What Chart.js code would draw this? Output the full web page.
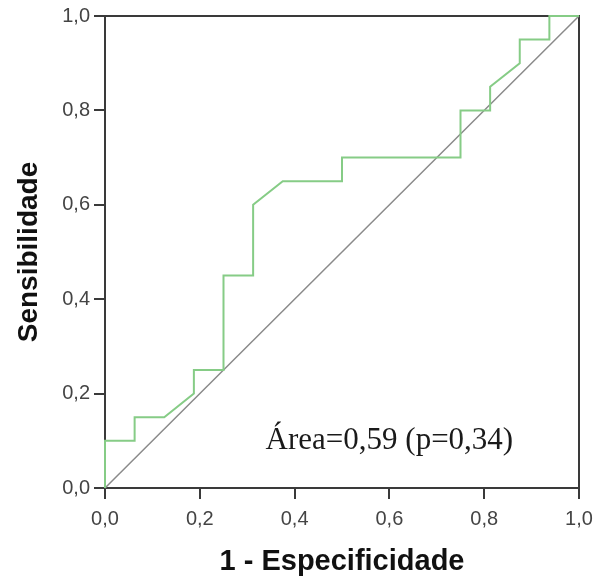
<!DOCTYPE html>
<html>
<head>
<meta charset="utf-8">
<script src="https://cdn.jsdelivr.net/npm/chart.js@4"></script>
<style>
  html, body { margin: 0; padding: 0; background: #ffffff; }
  #wrap { width: 610px; height: 580px; position: relative; }
</style>
</head>
<body>
<div id="wrap"><canvas id="c" width="610" height="580"></canvas></div>
<script>
// ROC curve (1 - Especificidade, Sensibilidade)
const rocFpr = [0, 0, 0.0625, 0.0625, 0.125, 0.1875, 0.1875, 0.25, 0.25, 0.3125, 0.3125, 0.375, 0.5, 0.5, 0.75, 0.75, 0.8125, 0.8125, 0.875, 0.875, 0.9375, 0.9375, 1];
const rocTpr = [0, 0.10, 0.10, 0.15, 0.15, 0.20, 0.25, 0.25, 0.45, 0.45, 0.60, 0.65, 0.65, 0.70, 0.70, 0.80, 0.80, 0.85, 0.90, 0.95, 0.95, 1.0, 1.0];
const refX = [0, 1];
const refY = [0, 1];
const xTickLabels = ['0,0', '0,2', '0,4', '0,6', '0,8', '1,0'];
const yTickLabels = ['0,0', '0,2', '0,4', '0,6', '0,8', '1,0'];
const xTitle = '1 - Especificidade';
const yTitle = 'Sensibilidade';
const annotationText = 'Área=0,59 (p=0,34)';
const annotationPos = [0.6, 0.1];

const toPts = (xs, ys) => xs.map((x, i) => ({ x: x, y: ys[i] }));

const frame = {
  id: 'frame',
  beforeDatasetsDraw(chart) {
    const { ctx, chartArea: a } = chart;
    ctx.save();
    ctx.strokeStyle = '#3a3a3a';
    ctx.lineWidth = 2;
    ctx.beginPath();
    ctx.moveTo(a.left, a.top);
    ctx.lineTo(a.right, a.top);
    ctx.lineTo(a.right, a.bottom);
    ctx.stroke();
    ctx.restore();
  },
  afterDatasetsDraw(chart) {
    const { ctx, scales } = chart;
    ctx.save();
    ctx.font = '31px "Liberation Serif", "Times New Roman", serif';
    ctx.fillStyle = '#1a1a1a';
    ctx.textAlign = 'center';
    ctx.textBaseline = 'middle';
    ctx.fillText(annotationText, scales.x.getPixelForValue(annotationPos[0]), scales.y.getPixelForValue(annotationPos[1]));
    ctx.restore();
  }
};

new Chart(document.getElementById('c'), {
  type: 'scatter',
  data: {
    datasets: [
      {
        data: toPts(refX, refY),
        showLine: true,
        borderColor: '#8a8a8a',
        borderWidth: 1.5,
        pointRadius: 0,
        clip: false,
        order: 2
      },
      {
        data: toPts(rocFpr, rocTpr),
        showLine: true,
        borderColor: '#86cc86',
        borderWidth: 2,
        pointRadius: 0,
        tension: 0,
        clip: false,
        order: 1
      }
    ]
  },
  options: {
    responsive: false,
    animation: false,
    events: [],
    layout: { padding: { left: 0, top: 14, right: 31, bottom: 0 } },
    plugins: { legend: { display: false }, tooltip: { enabled: false } },
    scales: {
      x: {
        type: 'linear', min: 0, max: 1,
        afterFit(s) { s.height = 92; },
        ticks: {
          stepSize: 0.2,
          padding: 8,
          color: '#444',
          font: { family: '"Liberation Sans", Arial, sans-serif', size: 20 },
          callback: (v, i) => xTickLabels[i]
        },
        grid: { drawOnChartArea: false, drawTicks: true, tickLength: 11, color: '#3a3a3a', lineWidth: 2 },
        border: { display: true, color: '#3a3a3a', width: 2 },
        title: {
          display: true, text: xTitle, color: '#111',
          font: { family: '"Liberation Sans", Arial, sans-serif', size: 29, weight: 'bold' },
          padding: { top: 0, bottom: 1 }
        }
      },
      y: {
        type: 'linear', min: 0, max: 1,
        afterFit(s) { s.width = 105; },
        ticks: {
          stepSize: 0.2,
          padding: 4,
          color: '#444',
          font: { family: '"Liberation Sans", Arial, sans-serif', size: 20 },
          callback: (v, i) => yTickLabels[i]
        },
        grid: { drawOnChartArea: false, drawTicks: true, tickLength: 11, color: '#3a3a3a', lineWidth: 2 },
        border: { display: true, color: '#3a3a3a', width: 2 },
        title: {
          display: true, text: yTitle, color: '#111',
          font: { family: '"Liberation Sans", Arial, sans-serif', size: 28, weight: 'bold' },
          padding: { top: 12, bottom: 0 }
        }
      }
    }
  },
  plugins: [frame]
});
</script>
</body>
</html>
